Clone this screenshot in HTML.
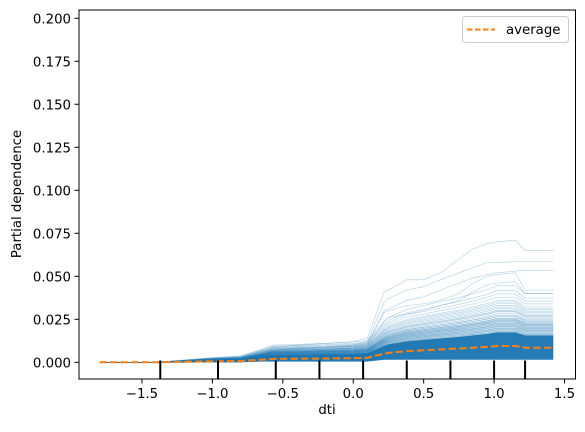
<!DOCTYPE html>
<html><head><meta charset="utf-8">
<style>
html,body{margin:0;padding:0;background:#fff;}
svg{display:block;font-family:"DejaVu Sans","Liberation Sans",sans-serif;}
</style></head>
<body>
<svg id="chart" width="585" height="432" viewBox="0 0 585 432" xmlns="http://www.w3.org/2000/svg">
<g id="ice"></g>
<g id="avg"></g>
<g id="rug"></g>
<g id="axes"></g>
<text x="327" y="414" font-size="13.3" text-anchor="middle" fill="#000">dti</text>
<text x="0" y="0" font-size="13.3" text-anchor="middle" fill="#000" transform="translate(21,194) rotate(-90)">Partial dependence</text>
<g>
<rect x="462.5" y="16.5" width="106" height="26" rx="3" fill="#fff" fill-opacity="0.8" stroke="#ccc"/>
<line x1="467" y1="29.5" x2="495" y2="29.5" stroke="#ff7f0e" stroke-width="2" stroke-dasharray="5.5,2.5"/>
<text x="506" y="34" font-size="13.3" fill="#000">average</text>
</g>
</svg>
<script>
const gridX=[-1.8,-1.6,-1.4,-1.2,-1.0,-0.8,-0.65,-0.57,-0.4,-0.2,0.0,0.1,0.22,0.25,0.38,0.5,0.62,0.75,0.85,0.95,1.02,1.15,1.22,1.42];
const avgY=[0,0,0,0.0003,0.0006,0.0008,0.0015,0.002,0.0021,0.0022,0.0024,0.0026,0.005,0.0055,0.0065,0.007,0.0075,0.008,0.0085,0.009,0.0095,0.0095,0.0085,0.0085];
const topA=[0,0,0,0.0005,0.001,0.0012,0.005,0.0085,0.01,0.011,0.012,0.014,0.041,0.042,0.048,0.048,0.052,0.06,0.066,0.069,0.07,0.071,0.065,0.065];
const topB=[0,0,0,0.0004,0.0009,0.0011,0.004,0.007,0.0085,0.009,0.01,0.012,0.035,0.037,0.042,0.044,0.048,0.052,0.055,0.058,0.058,0.0585,0.0585,0.0585];
const topC=[0,0,0,0.0004,0.0008,0.001,0.004,0.0065,0.008,0.0085,0.0095,0.011,0.03,0.031,0.036,0.038,0.042,0.046,0.049,0.051,0.052,0.053,0.0535,0.0535];
const topD=[0,0,0,0.0003,0.0007,0.0009,0.003,0.006,0.007,0.0075,0.0085,0.01,0.029,0.03,0.033,0.034,0.036,0.04,0.046,0.05,0.051,0.052,0.042,0.042];
const topE=[0,0,0,0.0003,0.0006,0.0008,0.003,0.005,0.006,0.007,0.008,0.009,0.024,0.026,0.028,0.03,0.033,0.036,0.041,0.045,0.046,0.047,0.04,0.04];
const multA=[0.18,0.22,0.26,0.3,0.34,0.38,0.42,0.46,0.5,0.54,0.58,0.62,0.66,0.7,0.74,0.78,0.82,0.86,0.9,0.94,0.98,1.02,1.06,1.1,1.14,1.18,1.22,1.26,1.3,1.34,1.38,1.42,1.46,1.5,1.55,1.6,1.65,1.7,1.75,1.8,1.85,1.9,1.95,2.0,2.05,2.1];
const multB=[1.5,1.6,1.7,1.8,1.9,2.0,2.1,2.15,2.2,2.25,2.3,2.35,2.4,2.45,2.5,2.55,2.6,2.7,2.8];
const multTail=[2.2,2.3,2.4,2.5,2.6,2.7,2.8,2.9,3.0,3.05,3.1,3.2,3.3,3.4,3.5,3.6,3.7,3.9,4.1,4.3,4.6];
const rugX=[-1.37,-0.96,-0.55,-0.24,0.07,0.38,0.69,1.0,1.22];
const xTicks=[-1.5,-1.0,-0.5,0.0,0.5,1.0,1.5];
const xTickLabels=["\u22121.5","\u22121.0","\u22120.5","0.0","0.5","1.0","1.5"];
const yTicks=[0,0.025,0.05,0.075,0.1,0.125,0.15,0.175,0.2];
const yTickLabels=["0.000","0.025","0.050","0.075","0.100","0.125","0.150","0.175","0.200"];

const NS="http://www.w3.org/2000/svg";
const L=79,R=575.5,T=10,B=379;
const x0=-1.947,x1=1.578,y0=-0.0097,y1=0.2048;
function sx(v){return L+(v-x0)/(x1-x0)*(R-L);}
function sy(v){return B-(v-y0)/(y1-y0)*(B-T);}
function pathOf(ys){return ys.map((y,i)=>(i?'L':'M')+sx(gridX[i]).toFixed(2)+','+sy(y).toFixed(2)).join(' ');}
function mk(tag,attrs,parent){const e=document.createElementNS(NS,tag);for(const k in attrs)e.setAttribute(k,attrs[k]);parent.appendChild(e);return e;}

const ice=document.getElementById('ice');
// dense band
{
  const lo=avgY.map((v,i)=>i>=12?0.0015:(i>=6?0.0004:0));
  const hi=avgY.map((v,i)=>v*1.75+(i>=6?0.0008:0));
  let d=pathOf(hi)+' '+lo.map((y,i)=>'L'+sx(gridX[lo.length-1-i]).toFixed(2)+','+sy(lo[lo.length-1-i]).toFixed(2)).join(' ')+'Z';
  const p=mk('path',{d:d,fill:'#1f77b4','fill-opacity':0.95},ice);
  
  
}
const mults=multA.concat(multB,multTail);
mults.forEach((m,k)=>{
  const ys=avgY.map((v,i)=>v*m+(i>=6?0.0008:0.0));
  const p=mk('path',{d:pathOf(ys),fill:'none',stroke:'#1f77b4','stroke-width':0.7,'stroke-opacity':0.3},ice);
  
  
});
[topA,topB,topC,topD,topE].forEach(ys=>{
  const p=mk('path',{d:pathOf(ys),fill:'none',stroke:'#1f77b4','stroke-width':0.7,'stroke-opacity':0.3},ice);
  
  
});
const avg=document.getElementById('avg');
{
  const p=mk('path',{d:pathOf(avgY),fill:'none',stroke:'#ff7f0e','stroke-width':2,'stroke-dasharray':'7.4,3.2'},avg);
  
  
}
const rug=document.getElementById('rug');
rugX.forEach(v=>{
  const l=mk('line',{x1:sx(v),x2:sx(v),y1:B,y2:B-18.5,stroke:'#000','stroke-width':2},rug);
  
  
});
const ax=document.getElementById('axes');
{
  const r=mk('rect',{x:L,y:T,width:R-L,height:B-T,fill:'none',stroke:'#000','stroke-width':1},ax);
  
  
}
xTicks.forEach((v,i)=>{
  const X=sx(v);
  const t=mk('line',{x1:X,x2:X,y1:B,y2:B+4.5,stroke:'#000','stroke-width':1},ax);
  
  
  const tx=mk('text',{x:X,y:B+19,'font-size':13.3,'text-anchor':'middle',fill:'#000'},ax);
  tx.textContent=xTickLabels[i];
  
  
});
yTicks.forEach((v,i)=>{
  const Y=sy(v);
  const t=mk('line',{x1:L-4.5,x2:L,y1:Y,y2:Y,stroke:'#000','stroke-width':1},ax);
  
  
  const tx=mk('text',{x:L-8,y:Y+5,'font-size':13.3,'text-anchor':'end',fill:'#000'},ax);
  tx.textContent=yTickLabels[i];
  
  
});
</script>
</body></html>
